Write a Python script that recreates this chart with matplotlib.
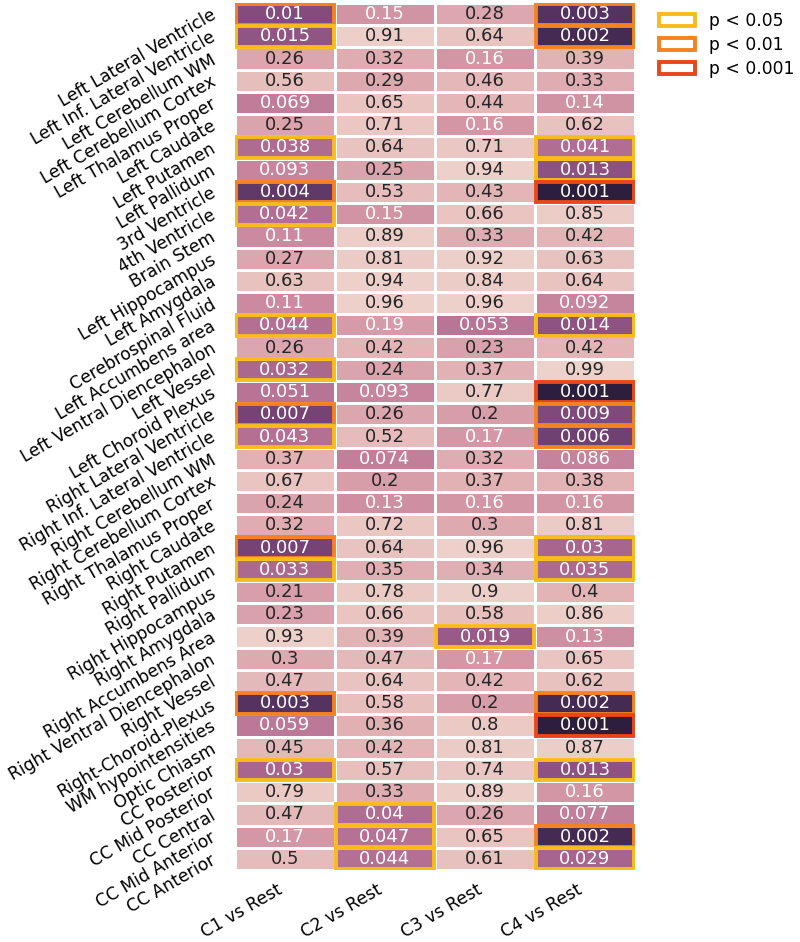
import numpy as np
import pandas as pd
import matplotlib
matplotlib.use("Agg")
import matplotlib.pyplot as plt
import seaborn as sns
from matplotlib.patches import Rectangle, Patch

regions = [
    "Left Lateral Ventricle", "Left Inf. Lateral Ventricle", "Left Cerebellum WM",
    "Left Cerebellum Cortex", "Left Thalamus Proper", "Left Caudate", "Left Putamen",
    "Left Pallidum", "3rd Ventricle", "4th Ventricle", "Brain Stem", "Left Hippocampus",
    "Left Amygdala", "Cerebrospinal Fluid", "Left Accumbens area",
    "Left Ventral Diencephalon", "Left Vessel", "Left Choroid Plexus",
    "Right Lateral Ventricle", "Right Inf. Lateral Ventricle", "Right Cerebellum WM",
    "Right Cerebellum Cortex", "Right Thalamus Proper", "Right Caudate",
    "Right Putamen", "Right Pallidum", "Right Hippocampus", "Right Amygdala",
    "Right Accumbens Area", "Right Ventral Diencephalon", "Right Vessel",
    "Right-Choroid-Plexus", "WM hypointensities", "Optic Chiasm", "CC Posterior",
    "CC Mid Posterior", "CC Central", "CC Mid Anterior", "CC Anterior",
]
comparisons = ["C1 vs Rest", "C2 vs Rest", "C3 vs Rest", "C4 vs Rest"]

p_c1 = [0.01, 0.015, 0.26, 0.56, 0.069, 0.25, 0.038, 0.093, 0.004, 0.042, 0.11, 0.27,
        0.63, 0.11, 0.044, 0.26, 0.032, 0.051, 0.007, 0.043, 0.37, 0.67, 0.24, 0.32,
        0.007, 0.033, 0.21, 0.23, 0.93, 0.3, 0.47, 0.003, 0.059, 0.45, 0.03, 0.79,
        0.47, 0.17, 0.5]
p_c2 = [0.15, 0.91, 0.32, 0.29, 0.65, 0.71, 0.64, 0.25, 0.53, 0.15, 0.89, 0.81,
        0.94, 0.96, 0.19, 0.42, 0.24, 0.093, 0.26, 0.52, 0.074, 0.2, 0.13, 0.72,
        0.64, 0.35, 0.78, 0.66, 0.39, 0.47, 0.64, 0.58, 0.36, 0.42, 0.57, 0.33,
        0.04, 0.047, 0.044]
p_c3 = [0.28, 0.64, 0.16, 0.46, 0.44, 0.16, 0.71, 0.94, 0.43, 0.66, 0.33, 0.92,
        0.84, 0.96, 0.053, 0.23, 0.37, 0.77, 0.2, 0.17, 0.32, 0.37, 0.16, 0.3,
        0.96, 0.34, 0.9, 0.58, 0.019, 0.17, 0.42, 0.2, 0.8, 0.81, 0.74, 0.89,
        0.26, 0.65, 0.61]
p_c4 = [0.003, 0.002, 0.39, 0.33, 0.14, 0.62, 0.041, 0.013, 0.001, 0.85, 0.42, 0.63,
        0.64, 0.092, 0.014, 0.42, 0.99, 0.001, 0.009, 0.006, 0.086, 0.38, 0.16, 0.81,
        0.03, 0.035, 0.4, 0.86, 0.13, 0.65, 0.62, 0.002, 0.001, 0.87, 0.013, 0.16,
        0.077, 0.002, 0.029]

# significance level shown by the cell border: 0 none, 1 p<0.05, 2 p<0.01, 3 p<0.001
sig_c1 = [2, 1, 0, 0, 0, 0, 1, 0, 2, 1, 0, 0, 0, 0, 1, 0, 1, 0, 2, 1, 0, 0, 0, 0,
          2, 1, 0, 0, 0, 0, 0, 2, 0, 0, 1, 0, 0, 0, 0]
sig_c2 = [0] * 36 + [1, 1, 1]
sig_c3 = [0] * 28 + [1] + [0] * 10
sig_c4 = [2, 2, 0, 0, 0, 0, 1, 1, 3, 0, 0, 0, 0, 0, 1, 0, 0, 3, 2, 2, 0, 0, 0, 0,
          1, 1, 0, 0, 0, 0, 0, 2, 3, 0, 1, 0, 0, 2, 1]

sig_labels = ["p < 0.05", "p < 0.01", "p < 0.001"]
sig_colors = ["#f9bb1c", "#f5821f", "#e8461b"]

pvals = pd.DataFrame(np.array([p_c1, p_c2, p_c3, p_c4]).T, index=regions, columns=comparisons)
sig = np.array([sig_c1, sig_c2, sig_c3, sig_c4]).T

fig = plt.figure(figsize=(8, 9.42), dpi=100)
ax = fig.add_axes([235 / 800, 1 - 870 / 942, 400 / 800, 867 / 942])

cmap = sns.cubehelix_palette(as_cmap=True)
sns.heatmap(-np.log10(pvals), ax=ax, cmap=cmap, vmin=0, vmax=3, cbar=False,
            annot=pvals.values, fmt="g", annot_kws={"fontsize": 13},
            linewidths=1, linecolor="white")

for (i, j), level in np.ndenumerate(sig):
    if level:
        ax.add_patch(Rectangle((j + 0.01, i + 0.03), 0.98, 0.94, fill=False,
                               edgecolor=sig_colors[level - 1], lw=2.8, zorder=3))

ax.set_yticklabels(regions, rotation=30, ha="right", va="center",
                   rotation_mode="anchor", fontsize=12.3)
ax.set_xticklabels(comparisons, rotation=30, ha="right", fontsize=12.3)
ax.tick_params(axis="y", length=0, pad=15)
ax.tick_params(axis="x", length=0, pad=8)

handles = [Patch(facecolor="white", edgecolor=c, lw=2.8, label=l)
           for c, l in zip(sig_colors, sig_labels)]
fig.legend(handles=handles, loc="upper left", bbox_to_anchor=(644 / 800, 1 + 3 / 942),
           frameon=False, fontsize=12.3, handlelength=2.1, labelspacing=0.33)

fig.savefig("out.png", dpi=100)
